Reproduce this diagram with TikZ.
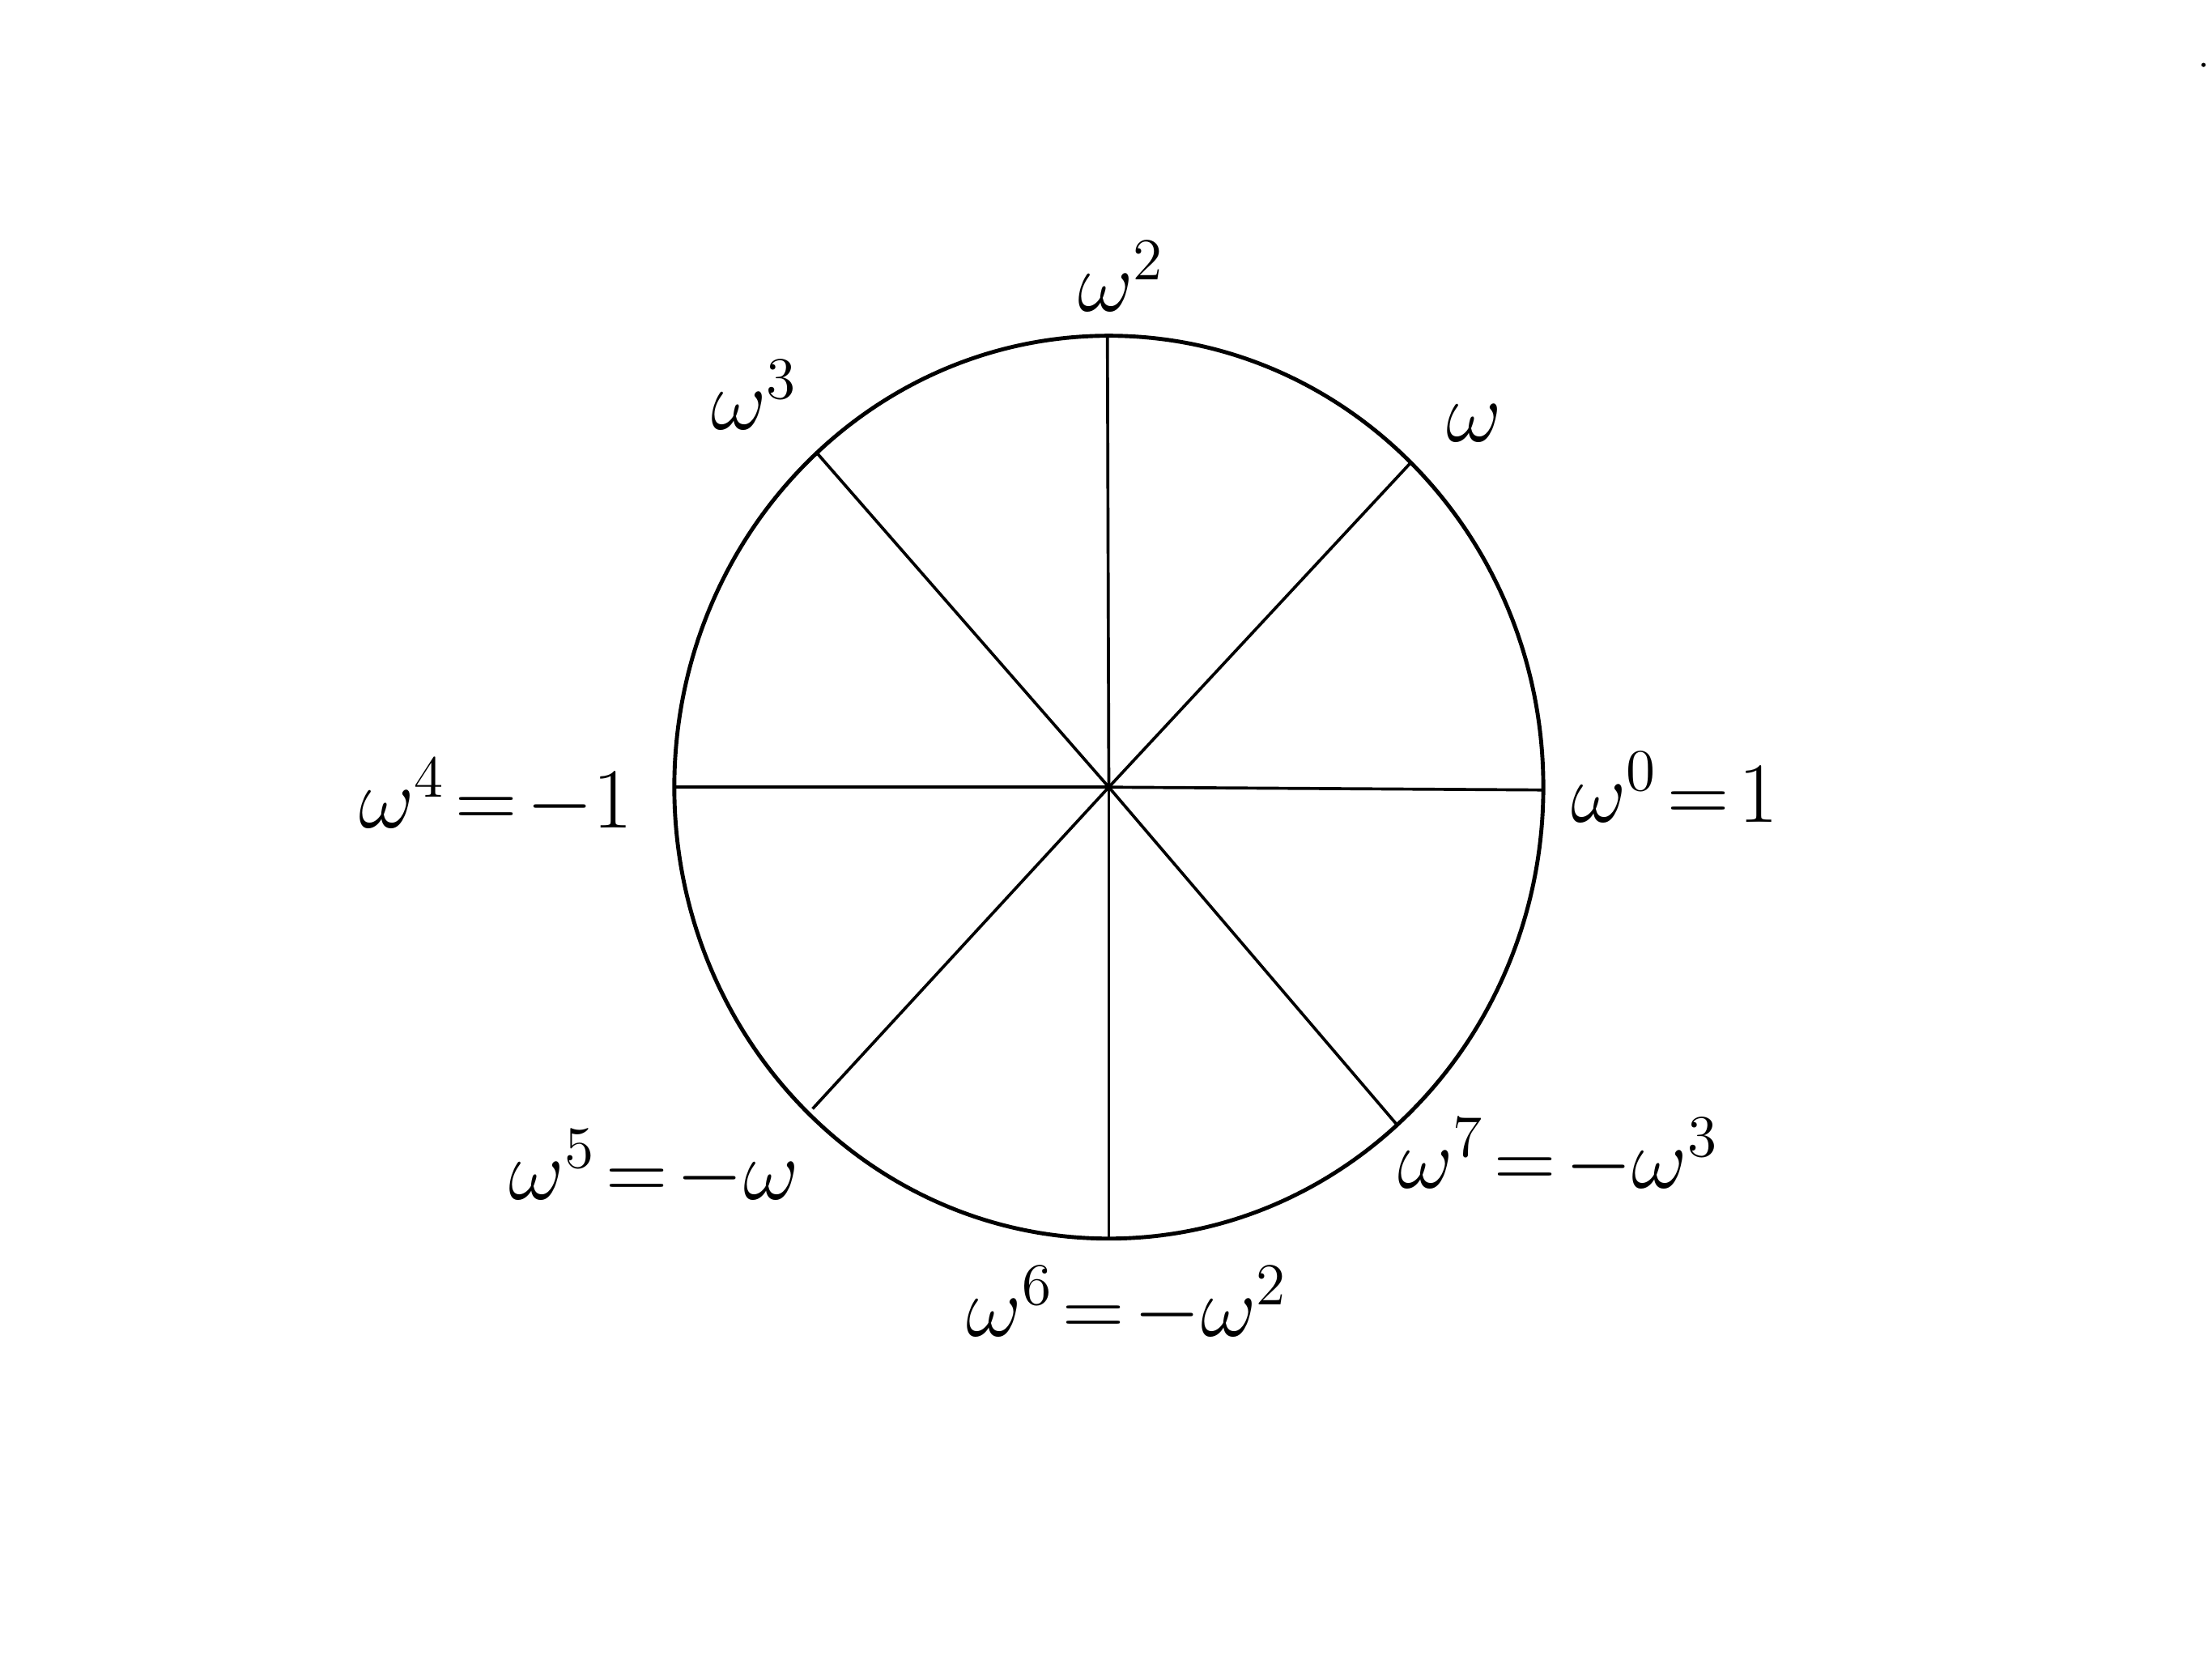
\documentclass[tikz,border=0pt]{standalone}
\begin{document}
\begin{tikzpicture}[x=0.01cm,y=-0.01cm,
  rim/.style={line width=0.8pt},
  spoke/.style={line width=0.6pt},
  lbl/.style={font=\fontsize{17}{21}\selectfont, inner sep=0pt}]
\useasboundingbox (0,0) rectangle (1568,1176);
\coordinate (O) at (786,558);
\draw[rim] (O) ellipse [x radius=308, y radius=320];
\coordinate (p0) at (1094,560);
\coordinate (p1) at (1000,328);
\coordinate (p2) at (785,237);
\coordinate (p3) at (579,321);
\coordinate (p4) at (478,558);
\coordinate (p5) at (576,786);
\coordinate (p6) at (786,877);
\coordinate (p7) at (990,797);
\foreach \p in {p0,p1,p2,p3,p4,p5,p6,p7} \draw[spoke] (O) -- (\p);
\node[lbl] (l2) at (795,196) {$\omega^2$};
\node[lbl] (l1) at (1045,300) {$\omega$};
\node[lbl] (l3) at (535,280) {$\omega^3$};
\node[lbl,anchor=east] (l4) at (449,565) {$\omega^4\!=\!-1$};
\node[lbl,anchor=west] (l0) at (1113,558) {$\omega^0\!=\!1$};
\node[lbl,anchor=east] (l5) at (567,828) {$\omega^5\!=\!-\omega$};
\node[lbl,anchor=west] (l7) at (990,820) {$\omega^7\!=\!-\omega^3$};
\node[lbl] (l6) at (799,925) {$\omega^6\!=\!-\omega^2$};
\fill (1562,46) circle (1.5);
\end{tikzpicture}
\end{document}
